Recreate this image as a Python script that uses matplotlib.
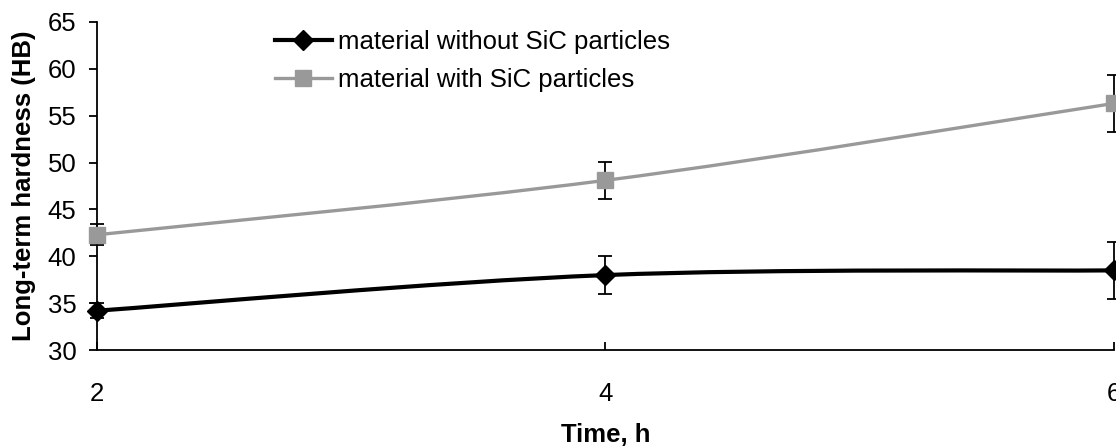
import matplotlib.pyplot as plt
from matplotlib.path import Path
from matplotlib.patches import PathPatch
from matplotlib.lines import Line2D

plt.rcParams['font.family'] = ['Liberation Sans', 'DejaVu Sans']

# data
time_h = [2, 4, 6]
hb_without = [34.2, 38.0, 38.5]
err_without = [0.8, 2.0, 3.0]
hb_with = [42.3, 48.1, 56.3]
err_with = [1.1, 2.0, 3.0]

labels = ['material without SiC particles', 'material with SiC particles']
gray = '#999999'
fs = 18.5


def smooth_path(xs, ys):
    # Excel-style smoothed line (Catmull-Rom as cubic Bezier)
    px = [xs[0]] + list(xs) + [xs[-1]]
    py = [ys[0]] + list(ys) + [ys[-1]]
    verts = [(xs[0], ys[0])]
    codes = [Path.MOVETO]
    for i in range(1, len(px) - 2):
        c1 = (px[i] + (px[i + 1] - px[i - 1]) / 6, py[i] + (py[i + 1] - py[i - 1]) / 6)
        c2 = (px[i + 1] - (px[i + 2] - px[i]) / 6, py[i + 1] - (py[i + 2] - py[i]) / 6)
        verts += [c1, c2, (px[i + 1], py[i + 1])]
        codes += [Path.CURVE4] * 3
    return Path(verts, codes)


fig = plt.figure(figsize=(11.16, 4.46), dpi=100)
ax = fig.add_axes([0.087, 0.215, 0.911, 0.736])

ax.add_patch(PathPatch(smooth_path(time_h, hb_without), fill=False,
                       edgecolor='black', lw=3, zorder=3, clip_on=False))
ax.add_patch(PathPatch(smooth_path(time_h, hb_with), fill=False,
                       edgecolor=gray, lw=2.4, zorder=3, clip_on=False))

ax.errorbar(time_h, hb_without, yerr=err_without, fmt='none', ecolor='black',
            elinewidth=1.3, capsize=5, capthick=1.3, zorder=2, clip_on=False)
ax.errorbar(time_h, hb_with, yerr=err_with, fmt='none', ecolor='black',
            elinewidth=1.3, capsize=5, capthick=1.3, zorder=2, clip_on=False)

ax.plot(time_h, hb_without, linestyle='none', marker='D', ms=10,
        color='black', zorder=4, clip_on=False)
ax.plot(time_h, hb_with, linestyle='none', marker='s', ms=11,
        color=gray, zorder=4, clip_on=False)

ax.set_xlim(2, 6)
ax.set_ylim(30, 65)
ax.set_xticks([2, 4, 6])
ax.set_yticks(range(30, 66, 5))

for side in ['top', 'right']:
    ax.spines[side].set_visible(False)
for side in ['left', 'bottom']:
    ax.spines[side].set_linewidth(1.3)

ax.tick_params(axis='y', direction='out', length=6, width=1.3, labelsize=fs, pad=9)
ax.tick_params(axis='x', direction='in', length=6, width=1.3, labelsize=fs, pad=23)

ax.set_xlabel('Time, h', fontsize=fs, fontweight='bold', labelpad=12)
ax.set_ylabel('Long-term hardness (HB)', fontsize=fs, fontweight='bold', labelpad=8.5)

handles = [
    Line2D([], [], color='black', lw=3, marker='D', ms=10),
    Line2D([], [], color=gray, lw=2.4, marker='s', ms=11),
]
ax.legend(handles, labels, loc='upper left', bbox_to_anchor=(0.165, 1.005),
          frameon=False, fontsize=fs, handlelength=2.2, handletextpad=0.25,
          labelspacing=0.53, borderaxespad=0)

fig.savefig('out.png', dpi=100)
